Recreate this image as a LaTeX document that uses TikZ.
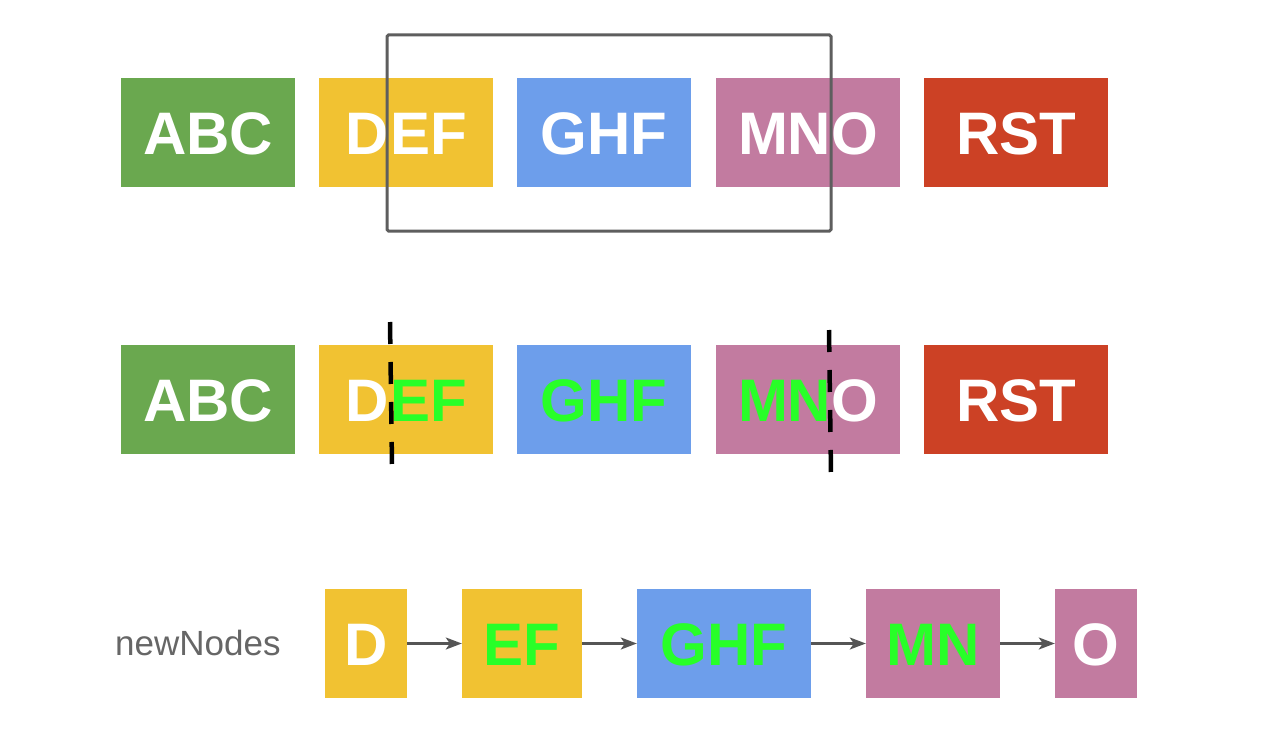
\documentclass[tikz,border=0pt]{standalone}
\usepackage{fontspec}
\setmainfont{Liberation Sans}
\usetikzlibrary{arrows.meta}
\definecolor{cgreen}{HTML}{6AA84F}
\definecolor{cyellow}{HTML}{F1C232}
\definecolor{cblue}{HTML}{6D9EEB}
\definecolor{cpink}{HTML}{C27BA0}
\definecolor{cred}{HTML}{CC4125}
\definecolor{hl}{RGB}{40,255,40}
\definecolor{frame}{HTML}{5E5E5E}
\definecolor{arrgray}{HTML}{555555}
\definecolor{lbl}{HTML}{666666}
\newcommand{\G}[1]{\textcolor{hl}{#1}}
\begin{document}
\begin{tikzpicture}[x=1pt,y=-1pt,
  box/.style={inner sep=0pt, draw=none, minimum height=109pt, text=white,
    font=\fontsize{60}{68}\selectfont\bfseries, text height=44pt, text depth=0pt},
  arr/.style={draw=arrgray, line width=2.2pt, -{Stealth[length=16pt,width=12pt,inset=4pt]}},
  cut/.style={draw=black, line width=4.5pt, dash pattern=on 22pt off 18pt}]
\useasboundingbox (0,0) rectangle (1282,730);
% top row
\node[box, fill=cgreen, minimum width=174pt] (t1) at (208,132.5) {ABC};
\node[box, fill=cyellow, minimum width=174pt] (t2) at (406,132.5) {D\kern2pt EF};
\node[box, fill=cblue, minimum width=174pt] (t3) at (604,132.5) {GHF};
\node[box, fill=cpink, minimum width=184pt] (t4) at (808,132.5) {MNO};
\node[box, fill=cred, minimum width=184pt] (t5) at (1016,132.5) {RST};
\draw[frame, line width=3pt, rounded corners=1.5pt] (387,35) rectangle (831,231);
% middle row
\node[box, fill=cgreen, minimum width=174pt] (m1) at (208,399.5) {ABC};
\node[box, fill=cyellow, minimum width=174pt] (m2) at (406,399.5) {D\kern2pt\G{EF}};
\node[box, fill=cblue, minimum width=174pt] (m3) at (604,399.5) {\G{GHF}};
\node[box, fill=cpink, minimum width=184pt] (m4) at (808,399.5) {\G{MN}O};
\node[box, fill=cred, minimum width=184pt] (m5) at (1016,399.5) {RST};
\coordinate (c1a) at (390,322);
\coordinate (c1b) at (392,465);
\coordinate (c2a) at (829,330);
\coordinate (c2b) at (831,473);
\draw[cut] (c1a) -- (c1b);
\draw[cut] (c2a) -- (c2b);
% bottom row
\node[anchor=base west, inner sep=0pt, text=lbl, font=\fontsize{35}{40}\selectfont] (lab) at (115,655) {newNodes};
\node[box, fill=cyellow, minimum width=82pt] (b1) at (366,643.5) {D};
\node[box, fill=cyellow, minimum width=120pt] (b2) at (522,643.5) {\G{EF}};
\node[box, fill=cblue, minimum width=174pt] (b3) at (724,643.5) {\G{GHF}};
\node[box, fill=cpink, minimum width=134pt] (b4) at (933,643.5) {\G{MN}};
\node[box, fill=cpink, minimum width=82pt] (b5) at (1096,643.5) {O};
\draw[arr] (b1) -- (b2);
\draw[arr] (b2) -- (b3);
\draw[arr] (b3) -- (b4);
\draw[arr] (b4) -- (b5);
\end{tikzpicture}
\end{document}
